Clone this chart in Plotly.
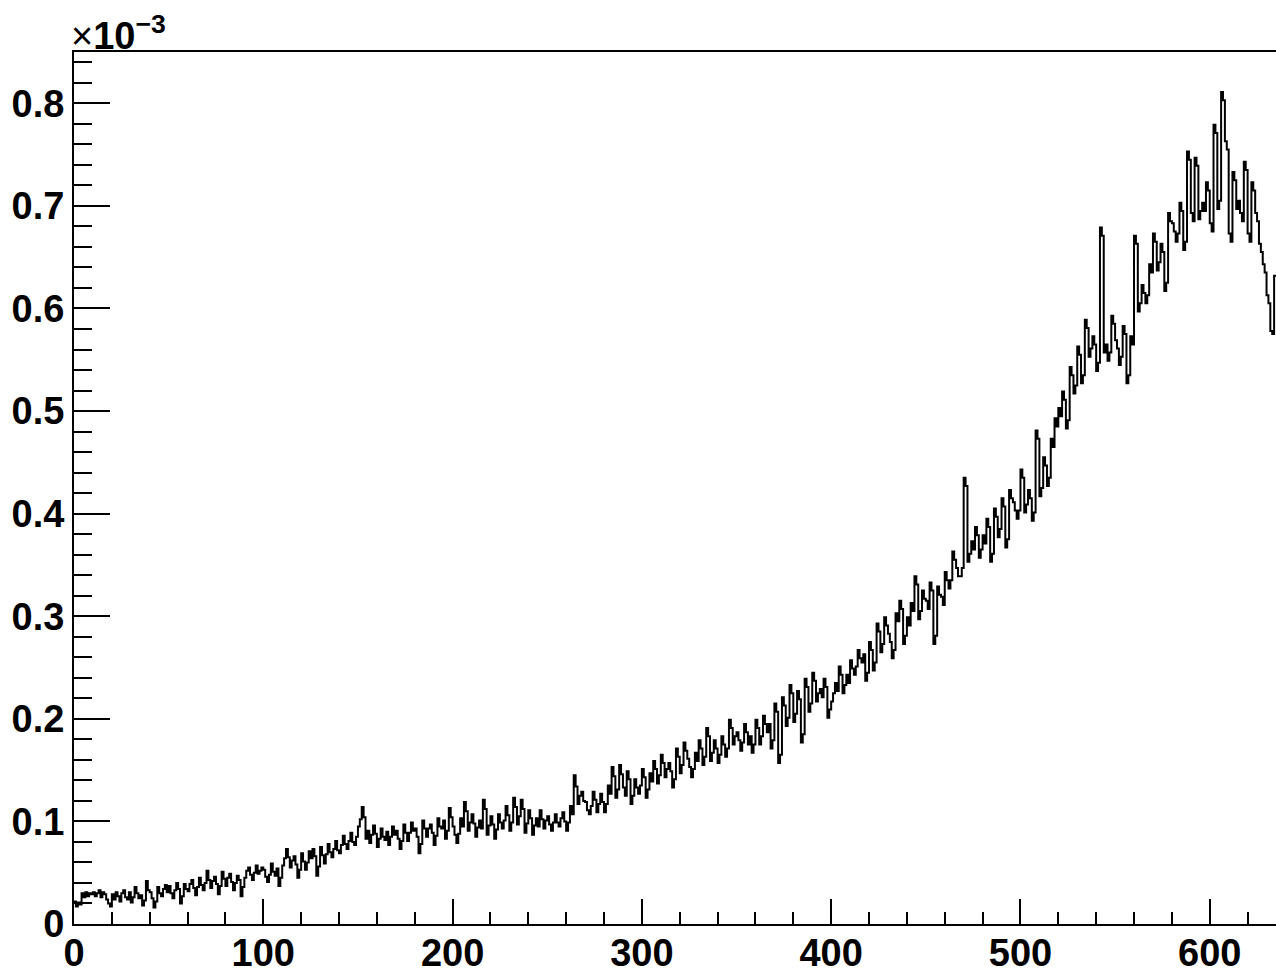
import numpy as np
import plotly.graph_objects as go

# Histogram contents (units of 1e-3), bin width 1, starting at x = 0
bin_width = 1
values_e3 = [
    0.022, 0.017, 0.021, 0.019, 0.030, 0.026, 0.031, 0.027, 0.030, 0.029,
    0.031, 0.027, 0.030, 0.033, 0.026, 0.031, 0.029, 0.024, 0.020, 0.017,
    0.029, 0.024, 0.031, 0.027, 0.022, 0.030, 0.033, 0.026, 0.024, 0.031,
    0.021, 0.026, 0.036, 0.030, 0.025, 0.028, 0.018, 0.023, 0.042, 0.033,
    0.031, 0.025, 0.016, 0.022, 0.036, 0.030, 0.027, 0.034, 0.038, 0.031,
    0.037, 0.030, 0.025, 0.033, 0.040, 0.034, 0.020, 0.027, 0.039, 0.034,
    0.032, 0.039, 0.043, 0.035, 0.028, 0.036, 0.045, 0.038, 0.033, 0.040,
    0.052, 0.043, 0.035, 0.042, 0.046, 0.039, 0.029, 0.037, 0.051, 0.044,
    0.037, 0.045, 0.049, 0.041, 0.033, 0.040, 0.047, 0.043, 0.027, 0.036,
    0.045, 0.052, 0.055, 0.048, 0.043, 0.050, 0.057, 0.049, 0.052, 0.055,
    0.053, 0.046, 0.041, 0.048, 0.059, 0.051, 0.047, 0.054, 0.037, 0.045,
    0.057, 0.064, 0.073, 0.065, 0.055, 0.062, 0.066, 0.058, 0.045, 0.053,
    0.069, 0.061, 0.053, 0.060, 0.071, 0.064, 0.073, 0.066, 0.047, 0.056,
    0.075, 0.067, 0.059, 0.068, 0.078, 0.070, 0.065, 0.073, 0.081, 0.072,
    0.069, 0.077, 0.086, 0.078, 0.073, 0.081, 0.089, 0.080, 0.077, 0.085,
    0.095, 0.102, 0.114, 0.104, 0.083, 0.091, 0.079, 0.087, 0.096, 0.088,
    0.075, 0.083, 0.093, 0.085, 0.082, 0.090, 0.077, 0.085, 0.095, 0.087,
    0.091, 0.083, 0.073, 0.081, 0.097, 0.089, 0.081, 0.089, 0.099, 0.091,
    0.093, 0.085, 0.069, 0.078, 0.101, 0.093, 0.085, 0.093, 0.097, 0.089,
    0.077, 0.086, 0.103, 0.095, 0.093, 0.101, 0.083, 0.091, 0.113, 0.104,
    0.095, 0.087, 0.079, 0.088, 0.103, 0.095, 0.119, 0.110, 0.091, 0.099,
    0.107, 0.098, 0.085, 0.094, 0.101, 0.093, 0.121, 0.112, 0.087, 0.096,
    0.105, 0.097, 0.083, 0.092, 0.107, 0.099, 0.093, 0.101, 0.115, 0.106,
    0.091, 0.099, 0.123, 0.114, 0.097, 0.105, 0.121, 0.112, 0.089, 0.098,
    0.111, 0.103, 0.087, 0.096, 0.103, 0.095, 0.111, 0.102, 0.093, 0.101,
    0.105, 0.097, 0.091, 0.099, 0.107, 0.099, 0.095, 0.103, 0.109, 0.100,
    0.091, 0.099, 0.115, 0.107, 0.145, 0.134, 0.117, 0.125, 0.129, 0.120,
    0.119, 0.111, 0.107, 0.115, 0.129, 0.121, 0.109, 0.117, 0.127, 0.119,
    0.109, 0.117, 0.135, 0.127, 0.153, 0.144, 0.123, 0.131, 0.155, 0.146,
    0.133, 0.125, 0.149, 0.141, 0.117, 0.125, 0.141, 0.133, 0.127, 0.135,
    0.151, 0.143, 0.123, 0.131, 0.147, 0.139, 0.159, 0.151, 0.137, 0.145,
    0.165, 0.157, 0.143, 0.151, 0.157, 0.149, 0.133, 0.141, 0.171, 0.163,
    0.147, 0.155, 0.177, 0.169, 0.161, 0.153, 0.143, 0.151, 0.167, 0.159,
    0.179, 0.171, 0.155, 0.163, 0.191, 0.183, 0.159, 0.167, 0.179, 0.171,
    0.157, 0.165, 0.183, 0.175, 0.163, 0.171, 0.199, 0.191, 0.175, 0.183,
    0.187, 0.179, 0.169, 0.177, 0.195, 0.187, 0.175, 0.183, 0.167, 0.175,
    0.199, 0.191, 0.175, 0.183, 0.203, 0.195, 0.187, 0.195, 0.171, 0.179,
    0.215, 0.207, 0.157, 0.165, 0.221, 0.213, 0.193, 0.201, 0.233, 0.225,
    0.197, 0.205, 0.227, 0.219, 0.177, 0.185, 0.239, 0.231, 0.207, 0.215,
    0.245, 0.237, 0.217, 0.225, 0.229, 0.221, 0.239, 0.231, 0.201, 0.209,
    0.217, 0.225, 0.235, 0.227, 0.251, 0.243, 0.225, 0.233, 0.243, 0.235,
    0.257, 0.249, 0.243, 0.251, 0.267, 0.259, 0.255, 0.263, 0.237, 0.245,
    0.275, 0.267, 0.247, 0.255, 0.293, 0.285, 0.265, 0.273, 0.299, 0.291,
    0.283, 0.275, 0.259, 0.267, 0.303, 0.295, 0.315, 0.307, 0.273, 0.281,
    0.299, 0.291, 0.313, 0.305, 0.339, 0.331, 0.297, 0.305, 0.325, 0.317,
    0.315, 0.307, 0.333, 0.325, 0.273, 0.281, 0.329, 0.321, 0.319, 0.311,
    0.343, 0.335, 0.327, 0.335, 0.363, 0.355, 0.347, 0.339, 0.339, 0.347,
    0.435, 0.427, 0.353, 0.361, 0.373, 0.365, 0.387, 0.379, 0.357, 0.365,
    0.379, 0.371, 0.395, 0.387, 0.353, 0.361, 0.405, 0.397, 0.377, 0.385,
    0.415, 0.407, 0.367, 0.375, 0.423, 0.415, 0.411, 0.403, 0.395, 0.403,
    0.443, 0.435, 0.401, 0.409, 0.423, 0.415, 0.393, 0.401, 0.481, 0.473,
    0.417, 0.425, 0.455, 0.447, 0.427, 0.435, 0.473, 0.465, 0.493, 0.485,
    0.503, 0.495, 0.519, 0.511, 0.483, 0.491, 0.543, 0.535, 0.517, 0.525,
    0.563, 0.555, 0.527, 0.535, 0.589, 0.581, 0.553, 0.561, 0.573, 0.565,
    0.539, 0.547, 0.679, 0.671, 0.557, 0.565, 0.549, 0.557, 0.593, 0.585,
    0.569, 0.561, 0.545, 0.553, 0.583, 0.575, 0.527, 0.535, 0.573, 0.565,
    0.671, 0.663, 0.597, 0.605, 0.623, 0.615, 0.605, 0.613, 0.643, 0.635,
    0.673, 0.665, 0.637, 0.645, 0.663, 0.655, 0.617, 0.625, 0.693, 0.685,
    0.683, 0.675, 0.665, 0.673, 0.703, 0.695, 0.657, 0.665, 0.753, 0.745,
    0.693, 0.685, 0.747, 0.739, 0.687, 0.695, 0.703, 0.695, 0.723, 0.715,
    0.683, 0.675, 0.779, 0.771, 0.697, 0.705, 0.811, 0.803, 0.763, 0.755,
    0.673, 0.665, 0.733, 0.725, 0.697, 0.705, 0.693, 0.685, 0.743, 0.735,
    0.673, 0.665, 0.723, 0.715, 0.693, 0.685, 0.663, 0.655, 0.643, 0.635,
    0.613, 0.605, 0.578, 0.575, 0.632,
]

x_ticks = [0, 100, 200, 300, 400, 500, 600]
x_tick_labels = ["0", "100", "200", "300", "400", "500", "600"]
y_ticks = [0, 0.1, 0.2, 0.3, 0.4, 0.5, 0.6, 0.7, 0.8]
y_tick_labels = ["0", "0.1", "0.2", "0.3", "0.4", "0.5", "0.6", "0.7", "0.8"]
exponent_label = "×<b>10</b><sup><b>−3</b></sup>"

edges = np.arange(len(values_e3) + 1) * bin_width
xs = list(edges)
ys = list(values_e3) + [values_e3[-1]]

FONT = "Liberation Sans, Arial, Helvetica, sans-serif"

fig = go.Figure()
fig.add_trace(go.Scatter(
    x=xs, y=ys, mode="lines", line=dict(color="black", width=2, shape="hv"),
    showlegend=False, hoverinfo="skip",
))

fig.update_layout(
    width=1276, height=969,
    margin=dict(l=74, r=0, t=52, b=45),
    paper_bgcolor="white", plot_bgcolor="white",
    font=dict(family=FONT, color="black"),
    xaxis=dict(
        range=[0, 635], showgrid=False, zeroline=False, automargin=False,
        showline=True, linecolor="black", linewidth=2, mirror=True,
        ticks="inside", ticklen=25, tickwidth=2, tickcolor="black",
        tickvals=x_ticks, ticktext=x_tick_labels, ticklabelstandoff=-6,
        tickfont=dict(family=FONT, size=38, color="black", weight="bold"),
        minor=dict(dtick=20, tick0=0, ticks="inside", ticklen=12, tickwidth=2, tickcolor="black"),
    ),
    yaxis=dict(
        range=[0, 0.85], showgrid=False, zeroline=False, automargin=False,
        showline=True, linecolor="black", linewidth=2, mirror=False,
        ticks="inside", ticklen=36, tickwidth=2, tickcolor="black",
        tickvals=y_ticks, ticktext=y_tick_labels,
        tickfont=dict(family=FONT, size=38, color="black", weight="bold"),
        minor=dict(dtick=0.02, tick0=0, ticks="inside", ticklen=18, tickwidth=2, tickcolor="black"),
    ),
    annotations=[dict(
        text=exponent_label, xref="paper", yref="paper", x=0, y=1,
        xanchor="left", yanchor="bottom", showarrow=False, xshift=-5, yshift=-7,
        font=dict(family=FONT, size=38, color="black"),
    )],
)

# remove the default page margin so the figure fills the window exactly
fig.write_html(
    "out.html",
    config={"displayModeBar": False},
    post_script="document.body.style.margin='0';document.body.style.overflow='hidden';",
)
